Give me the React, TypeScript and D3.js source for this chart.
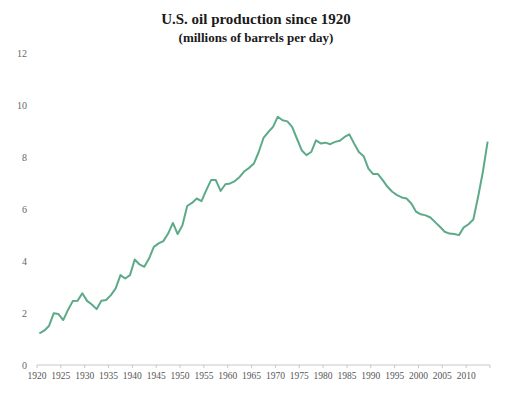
import React from 'react';
import * as d3 from 'd3';

// U.S. crude oil production, millions of barrels per day, 1920-2014
const startYear = 1920;
const production = [
  1.22, 1.32, 1.5, 1.99, 1.96, 1.73, 2.12, 2.46, 2.47, 2.76,
  2.47, 2.33, 2.15, 2.47, 2.5, 2.69, 2.95, 3.46, 3.33, 3.46,
  4.06, 3.87, 3.78, 4.1, 4.55, 4.68, 4.77, 5.06, 5.47, 5.04,
  5.38, 6.12, 6.24, 6.41, 6.31, 6.73, 7.12, 7.12, 6.7, 6.96,
  6.99, 7.08, 7.24, 7.46, 7.59, 7.76, 8.2, 8.74, 8.97, 9.17,
  9.56, 9.42, 9.38, 9.17, 8.72, 8.27, 8.08, 8.2, 8.65, 8.53,
  8.56, 8.5, 8.59, 8.63, 8.78, 8.88, 8.53, 8.2, 8.04, 7.56,
  7.35, 7.35, 7.12, 6.86, 6.67, 6.54, 6.45, 6.41, 6.22, 5.9,
  5.8, 5.76, 5.68, 5.5, 5.32, 5.13, 5.06, 5.04, 5.0, 5.3,
  5.42, 5.6, 6.47, 7.43, 8.6,
];
const yearTicks = d3.range(1920, 2016, 5);
const valueTicks = [0, 2, 4, 6, 8, 10, 12];

const W = 516;
const H = 395;
const left = 37;
const right = 490;
const top = 53.3;
const bottom = 365;

export default function App() {
  const x = d3.scaleLinear().domain([1920, 2015]).range([left, right]);
  const y = d3.scaleLinear().domain([0, 12]).range([bottom, top]);
  const path = d3
    .line<number>()
    .x((_, i) => x(startYear + i + 0.5))
    .y((d) => y(d))(production) as string;

  const serif = "'Liberation Serif', 'DejaVu Serif', serif";

  return (
    <svg
      width={W}
      height={H}
      style={{ position: 'absolute', left: 0, top: 0, background: '#fff' }}
      fontFamily={serif}
    >
      <text x={256} y={24} textAnchor="middle" fontSize={15} fontWeight="bold" fill="#1a1a1a">
        U.S. oil production since 1920
      </text>
      <text x={256} y={42} textAnchor="middle" fontSize={13} fontWeight="bold" fill="#1a1a1a">
        (millions of barrels per day)
      </text>

      {valueTicks.map((v) => (
        <text key={v} x={27} y={y(v) + 3.5} textAnchor="end" fontSize={10} fill="#666">
          {v}
        </text>
      ))}

      <line x1={left} x2={right} y1={bottom} y2={bottom} stroke="#c8c8c8" strokeWidth={1} />
      {yearTicks.map((t) => (
        <g key={t}>
          <line x1={x(t)} x2={x(t)} y1={bottom} y2={bottom + 3} stroke="#c8c8c8" />
          {t <= 2010 && (
            <text x={x(t)} y={bottom + 14} textAnchor="middle" fontSize={9.5} fill="#555">
              {t}
            </text>
          )}
        </g>
      ))}

      <path d={path} fill="none" stroke="#5daa88" strokeWidth={2} strokeLinejoin="round" />
    </svg>
  );
}
